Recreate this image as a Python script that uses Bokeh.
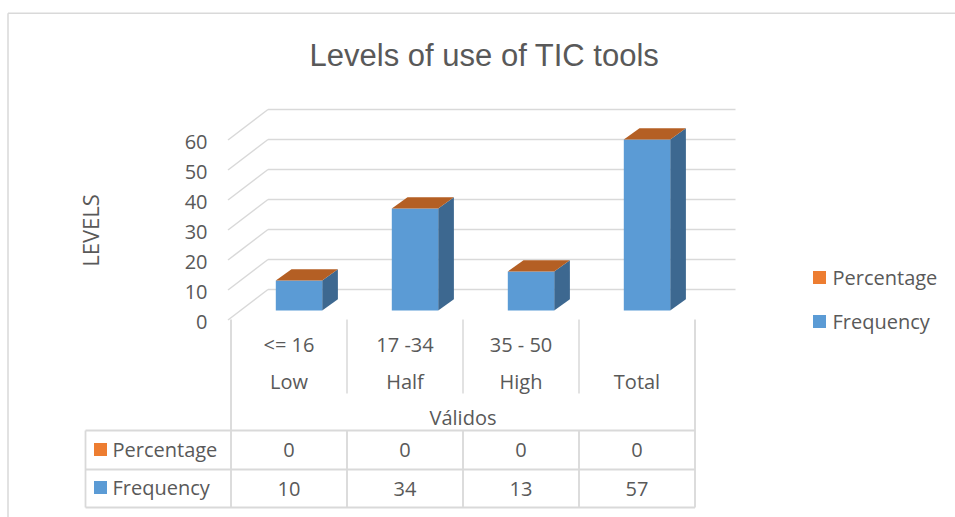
import numpy as np
from bokeh.plotting import figure
from bokeh.models import Range1d
from bokeh.core.properties import value
from bokeh.embed import file_html
from bokeh.resources import INLINE

# ---------------- data ----------------
chart_title = "Levels of use of TIC tools"
y_title = "LEVELS"
level_ranges = ["<= 16", "17 -34", "35 - 50", ""]
level_names = ["Low", "Half", "High", "Total"]
group_label = "Válidos"
series_names = ["Percentage", "Frequency"]
frequency = [10, 34, 13, 57]
percentage = [0, 0, 0, 0]
y_ticks = [0, 10, 20, 30, 40, 50, 60]

# ---------------- style / layout ----------------
W, H = 955, 517
PAGE_X0, PAGE_Y0 = 0, 0          # where the figure lands on the page
PXX = 116.0          # pixels per category
PXY = 3.0            # pixels per value unit
X0_PAGE, Y0_PAGE = 288.5, 310.0   # page position of category 0 / value 0
TXT = "#595959"
GRID = "#D9D9D9"
BLUE, BLUE_SIDE = "#5B9BD5", "#3D6890"
ORANGE, ORANGE_TOP, ORANGE_SIDE = "#ED7D31", "#B45F24", "#9A4F1C"
FONT = value("Open Sans")


def px2x(px):
    return (px - X0_PAGE) / PXX


def px2y(py):
    return (Y0_PAGE - py) / PXY


def ux(d):
    return d / PXX


def uy(d):
    return d / PXY


x_start = px2x(PAGE_X0)
x_end = x_start + W / PXX
y_end = px2y(PAGE_Y0)
y_start = y_end - H / PXY

p = figure(width=W, height=H, x_range=Range1d(x_start, x_end),
           y_range=Range1d(y_start, y_end), output_backend="svg",
           toolbar_location=None, min_border=0, tools="")
p.axis.visible = False
p.grid.visible = False
p.outline_line_color = None
p.background_fill_color = "white"
p.border_fill_color = "white"

# chart area border (left and top visible)
p.segment(x0=[px2x(7.5), px2x(7.5)], y0=[y_start, px2y(12.7)],
          x1=[px2x(7.5), x_end], y1=[px2y(12.7), px2y(12.7)],
          line_color=GRID, line_width=1.5)

# ---------------- 3D walls gridlines ----------------
n = len(frequency)
idx = np.arange(n, dtype=float)
ticks = np.array(y_ticks, dtype=float)
front_x = px2x(227.5)
back_lx = ux(40) + front_x
back_rx = px2x(735)
front_off = uy(-9.5)
back_off = uy(21)
p.segment(x0=[front_x] * len(ticks), y0=list(ticks + front_off),
          x1=[back_lx] * len(ticks), y1=list(ticks + back_off),
          line_color=GRID, line_width=1.5)
p.segment(x0=[back_lx] * len(ticks), y0=list(ticks + back_off),
          x1=[back_rx] * len(ticks), y1=list(ticks + back_off),
          line_color=GRID, line_width=1.5)

# y tick labels
p.text(x=[px2x(207)] * len(ticks), y=list(ticks + uy(-11)),
       text=[str(int(t)) for t in ticks], text_align="right",
       text_baseline="middle", text_font=FONT, text_font_size="20px",
       text_color=TXT)

# ---------------- 3D stacked bars ----------------
freq = np.array(frequency, dtype=float)
pct = np.array(percentage, dtype=float)
bar_off = ux(10)
half_w = 0.2
L = idx + bar_off - half_w
R = idx + bar_off + half_w
dx = ux(15.7)
dy = uy(11.3)

# sides
p.patches(xs=[[r, r + dx, r + dx, r] for r in R],
          ys=[[0, dy, f + dy, f] for f in freq],
          fill_color=BLUE_SIDE, line_color=None)
p.patches(xs=[[r, r + dx, r + dx, r] for r in R],
          ys=[[f, f + dy, f + q + dy, f + q] for f, q in zip(freq, pct)],
          fill_color=ORANGE_SIDE, line_color=None)
# fronts
p.quad(left=L, right=R, bottom=np.zeros(n), top=freq,
       fill_color=BLUE, line_color=None)
p.quad(left=L, right=R, bottom=freq, top=freq + pct,
       fill_color=ORANGE, line_color=None)
# top caps (top series)
tops = freq + pct
p.patches(xs=[[l, r, r + dx, l + dx] for l, r in zip(L, R)],
          ys=[[t, t, t + dy, t + dy] for t in tops],
          fill_color=ORANGE_TOP, line_color=None)

# ---------------- category axis / data table ----------------
div = np.append(idx - 0.5, idx[-1] + 0.5)
cat_top = px2y(319)
cat_bot = px2y(393)
tab_top, tab_mid, tab_bot = px2y(430), px2y(469), px2y(507)
tab_left = px2x(85)

# inner dividers (category area)
p.segment(x0=list(div[1:-1]), y0=[cat_top] * (n - 1),
          x1=list(div[1:-1]), y1=[cat_bot] * (n - 1),
          line_color=GRID, line_width=1.5)
# outer dividers running down through the table
p.segment(x0=[div[0], div[-1]], y0=[cat_top, cat_top],
          x1=[div[0], div[-1]], y1=[tab_bot, tab_bot],
          line_color=GRID, line_width=1.8)
# table column lines
p.segment(x0=list(div[1:-1]), y0=[tab_top] * (n - 1),
          x1=list(div[1:-1]), y1=[tab_bot] * (n - 1),
          line_color=GRID, line_width=1.8)
# table horizontal lines + left border
p.segment(x0=[tab_left] * 3, y0=[tab_top, tab_mid, tab_bot],
          x1=[div[-1]] * 3, y1=[tab_top, tab_mid, tab_bot],
          line_color=GRID, line_width=1.8)
p.segment(x0=[tab_left], y0=[tab_top], x1=[tab_left], y1=[tab_bot],
          line_color=GRID, line_width=1.8)

txt_kw = dict(text_font=FONT, text_font_size="20px", text_color=TXT,
              text_baseline="middle")
p.text(x=idx, y=[px2y(344)] * n, text=level_ranges, text_align="center", **txt_kw)
p.text(x=idx, y=[px2y(381)] * n, text=level_names, text_align="center", **txt_kw)
p.text(x=[idx.mean()], y=[px2y(417)], text=[group_label], text_align="center", **txt_kw)
p.text(x=idx, y=[px2y(449.5)] * n, text=[str(v) for v in percentage],
       text_align="center", **txt_kw)
p.text(x=idx, y=[px2y(488)] * n, text=[str(v) for v in frequency],
       text_align="center", **txt_kw)

# row headers with keys
row_y = [px2y(449), px2y(487)]
p.scatter(x=[px2x(100)] * 2, y=row_y, marker="square", size=13,
          fill_color=[ORANGE, BLUE], line_color=None)
p.text(x=[px2x(112)] * 2, y=row_y, text=series_names, text_align="left", **txt_kw)

# legend
leg_y = [px2y(277), px2y(321)]
p.scatter(x=[px2x(819)] * 2, y=leg_y, marker="square", size=13,
          fill_color=[ORANGE, BLUE], line_color=None)
p.text(x=[px2x(832)] * 2, y=leg_y, text=series_names, text_align="left", **txt_kw)

# axis title
p.text(x=[px2x(89)], y=[px2y(230)], text=[y_title], angle=np.pi / 2,
       text_align="center", text_font=FONT, text_font_size="22px",
       text_color=TXT, text_baseline="middle")

# chart title
p.text(x=[px2x(484)], y=[px2y(55)], text=[chart_title], text_align="center",
       text_baseline="middle", text_font=value("Liberation Sans"),
       text_font_size="31px", text_color=TXT)

open("out.html", "w").write(file_html(p, INLINE))
